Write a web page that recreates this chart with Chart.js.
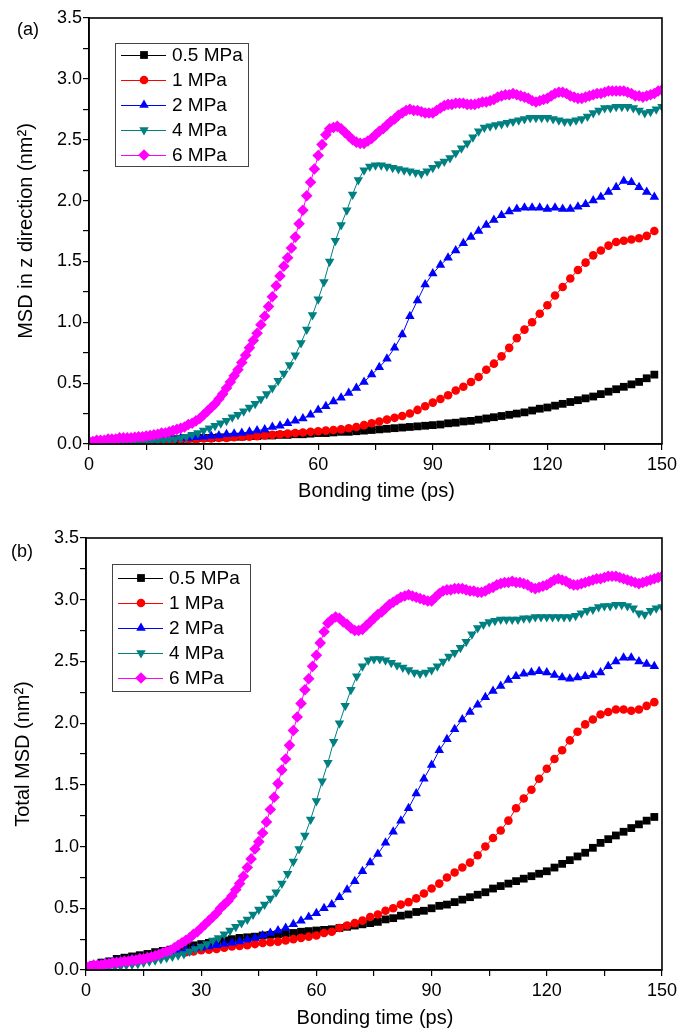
<!DOCTYPE html>
<html>
<head>
<meta charset="utf-8">
<script src="https://cdn.jsdelivr.net/npm/chart.js@4.4.1/dist/chart.umd.min.js"></script>
<style>
  body { margin: 0; background: #fff; }
  .panel { position: absolute; left: 0; width: 681px; height: 515px; }
</style>
</head>
<body>
<div class="panel" style="top:0"><canvas id="msdZ" width="681" height="515"></canvas></div>
<div class="panel" style="top:515px"><canvas id="msdTotal" width="681" height="515"></canvas></div>
<script>
// sampling times (ps): 0.5/1/2 MPa every 2 ps, 4 MPa every 1.5 ps, 6 MPa every 1 ps
const t2 = Array.from({ length: 75 }, (_, i) => i * 2);
const t15 = Array.from({ length: 101 }, (_, i) => i * 1.5);
const t1 = Array.from({ length: 151 }, (_, i) => i);

const pressures = ['0.5 MPa', '1 MPa', '2 MPa', '4 MPa', '6 MPa'];
const xTicks = [0, 30, 60, 90, 120, 150];
const yTicks = [0.0, 0.5, 1.0, 1.5, 2.0, 2.5, 3.0, 3.5];

// (a) MSD in z direction, nm^2
const z05 = [
  0.01, 0.015, 0.02, 0.02, 0.025, 0.025, 0.03, 0.03, 0.03, 0.035,
  0.035, 0.04, 0.04, 0.045, 0.045, 0.05, 0.05, 0.055, 0.055, 0.06,
  0.06, 0.065, 0.065, 0.07, 0.07, 0.075, 0.075, 0.08, 0.08, 0.085,
  0.09, 0.09, 0.095, 0.10, 0.10, 0.105, 0.11, 0.115, 0.12, 0.125,
  0.13, 0.135, 0.14, 0.145, 0.15, 0.155, 0.16, 0.17, 0.175, 0.185,
  0.19, 0.20, 0.21, 0.22, 0.23, 0.24, 0.25, 0.26, 0.275, 0.29,
  0.30, 0.315, 0.33, 0.345, 0.36, 0.375, 0.39, 0.41, 0.43, 0.45,
  0.47, 0.49, 0.51, 0.54, 0.57
];
const z1 = [
  0.01, 0.015, 0.02, 0.02, 0.02, 0.025, 0.025, 0.03, 0.03, 0.03,
  0.035, 0.035, 0.04, 0.04, 0.04, 0.045, 0.045, 0.05, 0.05, 0.055,
  0.06, 0.06, 0.065, 0.07, 0.075, 0.08, 0.085, 0.09, 0.095, 0.10,
  0.105, 0.11, 0.115, 0.12, 0.13, 0.14, 0.155, 0.17, 0.185, 0.20,
  0.215, 0.23, 0.25, 0.28, 0.31, 0.34, 0.37, 0.40, 0.44, 0.47,
  0.51, 0.55, 0.61, 0.66, 0.72, 0.79, 0.87, 0.94, 1.00, 1.07,
  1.14, 1.22, 1.29, 1.36, 1.43, 1.49, 1.55, 1.59, 1.63, 1.66,
  1.67, 1.68, 1.69, 1.71, 1.75
];
const z2 = [
  0.02, 0.02, 0.025, 0.03, 0.03, 0.035, 0.035, 0.04, 0.04, 0.04,
  0.045, 0.045, 0.05, 0.05, 0.055, 0.06, 0.065, 0.07, 0.08, 0.085,
  0.09, 0.10, 0.11, 0.12, 0.14, 0.15, 0.17, 0.19, 0.21, 0.24,
  0.28, 0.31, 0.35, 0.38, 0.42, 0.46, 0.51, 0.57, 0.63, 0.70,
  0.79, 0.90, 1.05, 1.18, 1.31, 1.40, 1.47, 1.53, 1.59, 1.65,
  1.70, 1.75, 1.80, 1.84, 1.88, 1.91, 1.93, 1.94, 1.94, 1.94,
  1.93, 1.94, 1.93, 1.93, 1.95, 1.97, 2.00, 2.03, 2.07, 2.11,
  2.16, 2.15, 2.11, 2.07, 2.03
];
const z4 = [
  0.01, 0.01, 0.01, 0.01, 0.01, 0.01, 0.01, 0.015, 0.015, 0.02,
  0.02, 0.02, 0.025, 0.03, 0.035, 0.04, 0.05, 0.06, 0.075, 0.09,
  0.11, 0.13, 0.15, 0.17, 0.19, 0.22, 0.24, 0.27, 0.30, 0.33,
  0.37, 0.41, 0.46, 0.52, 0.58, 0.65, 0.73, 0.83, 0.94, 1.06,
  1.19, 1.33, 1.50, 1.67, 1.80, 1.92, 2.05, 2.17, 2.25, 2.28,
  2.29, 2.29, 2.28, 2.27, 2.26, 2.25, 2.24, 2.23, 2.22, 2.24,
  2.27, 2.30, 2.32, 2.35, 2.39, 2.43, 2.47, 2.52, 2.57, 2.60,
  2.61, 2.62, 2.63, 2.64, 2.65, 2.66, 2.67, 2.68, 2.68, 2.68,
  2.68, 2.67, 2.66, 2.65, 2.65, 2.66, 2.67, 2.69, 2.72, 2.74,
  2.76, 2.76, 2.77, 2.77, 2.77, 2.76, 2.74, 2.72, 2.73, 2.75,
  2.77
];
const z6 = [
  0.02, 0.02, 0.03, 0.03, 0.03, 0.04, 0.04, 0.04, 0.05, 0.05,
  0.05, 0.05, 0.055, 0.06, 0.06, 0.065, 0.07, 0.075, 0.08, 0.09,
  0.09, 0.10, 0.11, 0.12, 0.13, 0.14, 0.16, 0.17, 0.19, 0.21,
  0.24, 0.27, 0.30, 0.33, 0.37, 0.41, 0.46, 0.51, 0.56, 0.61,
  0.67, 0.73, 0.79, 0.85, 0.91, 0.98, 1.05, 1.13, 1.21, 1.30,
  1.38, 1.46, 1.53, 1.61, 1.70, 1.81, 1.92, 2.04, 2.15, 2.26,
  2.37, 2.46, 2.54, 2.59, 2.60, 2.61, 2.59, 2.56, 2.53, 2.50,
  2.48, 2.47, 2.47, 2.49, 2.51, 2.54, 2.57, 2.59, 2.62, 2.65,
  2.67, 2.70, 2.72, 2.74, 2.75, 2.74, 2.74, 2.73, 2.72, 2.72,
  2.72, 2.74, 2.76, 2.78, 2.79, 2.79, 2.80, 2.80, 2.80, 2.79,
  2.79, 2.79, 2.80, 2.81, 2.81, 2.82, 2.83, 2.85, 2.86, 2.87,
  2.87, 2.88, 2.87, 2.86, 2.85, 2.84, 2.82, 2.81, 2.82, 2.83,
  2.84, 2.86, 2.88, 2.89, 2.89, 2.88, 2.86, 2.85, 2.84, 2.84,
  2.85, 2.86, 2.87, 2.88, 2.88, 2.89, 2.90, 2.90, 2.90, 2.90,
  2.90, 2.89, 2.88, 2.86, 2.86, 2.85, 2.86, 2.87, 2.88, 2.90,
  2.91
];

// (b) total MSD, nm^2
const tot05 = [
  0.02, 0.04, 0.06, 0.07, 0.09, 0.10, 0.11, 0.12, 0.13, 0.145,
  0.155, 0.165, 0.18, 0.19, 0.20, 0.21, 0.22, 0.23, 0.24, 0.25,
  0.26, 0.265, 0.27, 0.28, 0.285, 0.29, 0.295, 0.30, 0.31, 0.315,
  0.32, 0.325, 0.33, 0.34, 0.35, 0.36, 0.37, 0.38, 0.39, 0.41,
  0.42, 0.44, 0.45, 0.47, 0.48, 0.50, 0.52, 0.53, 0.55, 0.57,
  0.59, 0.61, 0.63, 0.66, 0.68, 0.70, 0.72, 0.74, 0.76, 0.78,
  0.80, 0.83, 0.86, 0.89, 0.92, 0.95, 0.99, 1.03, 1.06, 1.09,
  1.12, 1.15, 1.18, 1.21, 1.24
];
const tot1 = [
  0.02, 0.03, 0.04, 0.05, 0.06, 0.07, 0.08, 0.09, 0.10, 0.11,
  0.12, 0.13, 0.14, 0.145, 0.15, 0.16, 0.165, 0.17, 0.18, 0.19,
  0.195, 0.20, 0.21, 0.22, 0.225, 0.23, 0.24, 0.25, 0.26, 0.27,
  0.28, 0.30, 0.31, 0.34, 0.36, 0.38, 0.40, 0.43, 0.45, 0.48,
  0.50, 0.53, 0.55, 0.58, 0.62, 0.66, 0.70, 0.75, 0.79, 0.83,
  0.87, 0.93, 1.00, 1.07, 1.13, 1.21, 1.31, 1.39, 1.46, 1.55,
  1.63, 1.71, 1.78, 1.86, 1.93, 1.99, 2.03, 2.07, 2.09, 2.11,
  2.11, 2.10, 2.11, 2.14, 2.17
];
const tot2 = [
  0.02, 0.03, 0.05, 0.06, 0.07, 0.08, 0.09, 0.10, 0.11, 0.12,
  0.13, 0.14, 0.15, 0.16, 0.17, 0.18, 0.19, 0.20, 0.21, 0.22,
  0.23, 0.245, 0.26, 0.28, 0.30, 0.32, 0.34, 0.37, 0.40, 0.43,
  0.46, 0.50, 0.53, 0.59, 0.65, 0.72, 0.80, 0.87, 0.94, 1.03,
  1.12, 1.21, 1.31, 1.43, 1.55, 1.66, 1.78, 1.87, 1.95, 2.03,
  2.09, 2.15, 2.21, 2.26, 2.30, 2.35, 2.38, 2.40, 2.41, 2.42,
  2.41, 2.39, 2.37, 2.36, 2.37, 2.38, 2.39, 2.41, 2.46, 2.50,
  2.53, 2.53, 2.50, 2.48, 2.46
];
const tot4 = [
  0.0, 0.005, 0.01, 0.015, 0.02, 0.025, 0.03, 0.04, 0.045, 0.05,
  0.06, 0.07, 0.08, 0.09, 0.10, 0.11, 0.12, 0.13, 0.15, 0.17,
  0.19, 0.21, 0.24, 0.26, 0.29, 0.32, 0.35, 0.38, 0.41, 0.45,
  0.49, 0.53, 0.58, 0.63, 0.70, 0.78, 0.88, 0.98, 1.09, 1.22,
  1.37, 1.53, 1.68, 1.85, 2.00, 2.14, 2.27, 2.38, 2.46, 2.51,
  2.52, 2.52, 2.51, 2.49, 2.47, 2.45, 2.43, 2.41, 2.40, 2.41,
  2.43, 2.46, 2.50, 2.54, 2.57, 2.61, 2.66, 2.72, 2.77, 2.80,
  2.82, 2.83, 2.84, 2.84, 2.84, 2.84, 2.85, 2.85, 2.86, 2.86,
  2.86, 2.86, 2.86, 2.86, 2.86, 2.87, 2.89, 2.91, 2.92, 2.94,
  2.95, 2.95, 2.96, 2.96, 2.95, 2.93, 2.89, 2.88, 2.91, 2.93,
  2.94
];
const tot6 = [
  0.03, 0.03, 0.04, 0.04, 0.04, 0.05, 0.05, 0.06, 0.06, 0.065,
  0.07, 0.07, 0.08, 0.08, 0.09, 0.09, 0.10, 0.105, 0.115, 0.125,
  0.14, 0.15, 0.16, 0.18, 0.20, 0.22, 0.24, 0.26, 0.29, 0.31,
  0.34, 0.37, 0.40, 0.43, 0.46, 0.50, 0.53, 0.56, 0.60, 0.65,
  0.70, 0.76, 0.83, 0.90, 0.98, 1.04, 1.11, 1.20, 1.30, 1.40,
  1.51, 1.62, 1.71, 1.82, 1.94, 2.05, 2.16, 2.27, 2.36, 2.46,
  2.55, 2.65, 2.74, 2.81, 2.84, 2.86, 2.85, 2.82, 2.80, 2.77,
  2.75, 2.75, 2.76, 2.79, 2.82, 2.85, 2.88, 2.90, 2.93, 2.96,
  2.98, 3.00, 3.02, 3.03, 3.04, 3.03, 3.02, 3.01, 3.00, 2.99,
  2.99, 3.02, 3.05, 3.07, 3.08, 3.08, 3.09, 3.09, 3.09, 3.08,
  3.07, 3.07, 3.06, 3.06, 3.07, 3.09, 3.10, 3.12, 3.13, 3.14,
  3.14, 3.15, 3.14, 3.14, 3.13, 3.12, 3.10, 3.09, 3.10, 3.11,
  3.12, 3.14, 3.16, 3.17, 3.16, 3.15, 3.13, 3.12, 3.12, 3.13,
  3.14, 3.15, 3.16, 3.17, 3.17, 3.18, 3.19, 3.19, 3.19, 3.18,
  3.17, 3.16, 3.15, 3.14, 3.13, 3.14, 3.15, 3.16, 3.17, 3.18,
  3.19
];

const FONT = '"Liberation Sans", Arial, sans-serif';

const markers = [
  { color: '#000000', pointStyle: 'rect', radius: 5.5, rotation: 0 },
  { color: '#ff0000', pointStyle: 'circle', radius: 4.3, rotation: 0 },
  { color: '#0000ff', pointStyle: 'triangle', radius: 5.5, rotation: 0 },
  { color: '#008080', pointStyle: 'triangle', radius: 5.5, rotation: 180 },
  { color: '#ff00ff', pointStyle: 'rectRot', radius: 5.8, rotation: 0 }
];

function toPoints(times, values) {
  return values.map((v, i) => ({ x: times[i], y: v }));
}

// frame, legend box, panel tag and axis titles
const decorations = {
  id: 'decorations',
  afterDraw(chart, args, opts) {
    const ctx = chart.ctx;
    const area = chart.chartArea;
    ctx.save();
    ctx.strokeStyle = '#000';
    ctx.lineWidth = 1.6;
    ctx.strokeRect(area.left, area.top, area.right - area.left, area.bottom - area.top);

    ctx.fillStyle = '#000';
    ctx.font = '18px ' + FONT;
    ctx.textAlign = 'center';
    ctx.textBaseline = 'middle';
    ctx.fillText(opts.tag, opts.tagX, opts.tagY);

    ctx.font = '20px ' + FONT;
    ctx.fillText('Bonding time (ps)', (area.left + area.right) / 2 + 1, area.bottom + opts.xTitleGap);

    ctx.save();
    ctx.translate(opts.yTitleX, (area.top + area.bottom) / 2);
    ctx.rotate(-Math.PI / 2);
    ctx.fillText(opts.yTitle, 0, 0);
    ctx.restore();

    // legend
    const lg = opts.legend;
    ctx.fillStyle = '#fff';
    ctx.fillRect(lg.x, lg.y, lg.w, lg.h);
    ctx.strokeStyle = '#444';
    ctx.lineWidth = 1;
    ctx.strokeRect(lg.x + 0.5, lg.y + 0.5, lg.w, lg.h);
    ctx.font = '19px ' + FONT;
    ctx.textAlign = 'left';
    pressures.forEach((name, i) => {
      const y = lg.y + lg.first + i * lg.step;
      const m = markers[i];
      ctx.strokeStyle = m.color;
      ctx.lineWidth = 1;
      ctx.beginPath();
      ctx.moveTo(lg.x + 6, y + 0.5);
      ctx.lineTo(lg.x + 51, y + 0.5);
      ctx.stroke();
      ctx.fillStyle = m.color;
      Chart.helpers.drawPoint(ctx, { pointStyle: m.pointStyle, rotation: m.rotation, radius: m.radius, borderWidth: 0 }, lg.x + 29, y);
      ctx.fillStyle = '#000';
      ctx.fillText(name, lg.x + 57, y + 1);
    });
    ctx.restore();
  }
};

function buildChart(id, series, times, o) {
  const datasets = series.map((vals, i) => ({
    label: pressures[i],
    data: toPoints(times[i], vals),
    borderColor: markers[i].color,
    backgroundColor: markers[i].color,
    borderWidth: 1,
    pointStyle: markers[i].pointStyle,
    pointRotation: markers[i].rotation,
    pointRadius: markers[i].radius,
    pointBorderWidth: 0,
    pointHoverRadius: markers[i].radius,
    order: series.length - i
  }));

  return new Chart(document.getElementById(id), {
    type: 'line',
    data: { datasets },
    plugins: [decorations],
    options: {
      responsive: false,
      animation: false,
      layout: { padding: { left: 0, right: o.padRight, top: o.padTop, bottom: 0 } },
      plugins: {
        legend: { display: false },
        tooltip: { enabled: false },
        decorations: o.deco
      },
      scales: {
        x: {
          type: 'linear',
          min: 0,
          max: 150,
          afterFit: s => { s.height = o.xAxisHeight; },
          grid: { drawOnChartArea: false, drawTicks: true, tickLength: 6, color: '#000', lineWidth: 1.2 },
          border: { display: true, color: '#000', width: 1.6 },
          ticks: {
            stepSize: 15,
            autoSkip: false,
            maxRotation: 0,
            padding: 4,
            color: '#000',
            font: { family: FONT, size: 18 },
            callback: v => xTicks.includes(v) ? String(v) : ''
          }
        },
        y: {
          min: 0,
          max: 3.5,
          afterFit: s => { s.width = o.yAxisWidth; },
          grid: { drawOnChartArea: false, drawTicks: true, tickLength: 6, color: '#000', lineWidth: 1.2 },
          border: { display: true, color: '#000', width: 1.6 },
          ticks: {
            stepSize: 0.25,
            autoSkip: false,
            padding: 1,
            color: '#000',
            font: { family: FONT, size: 18 },
            callback: v => yTicks.includes(v) ? v.toFixed(1) : ''
          }
        }
      }
    }
  });
}

buildChart('msdZ', [z05, z1, z2, z4, z6], [t2, t2, t2, t15, t1], {
  padRight: 18, padTop: 18, xAxisHeight: 71, yAxisWidth: 89,
  deco: {
    tag: '(a)', tagX: 28, tagY: 30,
    yTitle: 'MSD in z direction (nm\u00B2)', yTitleX: 26, xTitleGap: 47,
    legend: { x: 115, y: 43, w: 133, h: 123, first: 12, step: 25 }
  }
});

buildChart('msdTotal', [tot05, tot1, tot2, tot4, tot6], [t2, t2, t2, t15, t1], {
  padRight: 13, padTop: 23, xAxisHeight: 60, yAxisWidth: 86,
  deco: {
    tag: '(b)', tagX: 22, tagY: 37,
    yTitle: 'Total MSD (nm\u00B2)', yTitleX: 23, xTitleGap: 48,
    legend: { x: 112, y: 49, w: 138, h: 127, first: 14, step: 25 }
  }
});
</script>
</body>
</html>
